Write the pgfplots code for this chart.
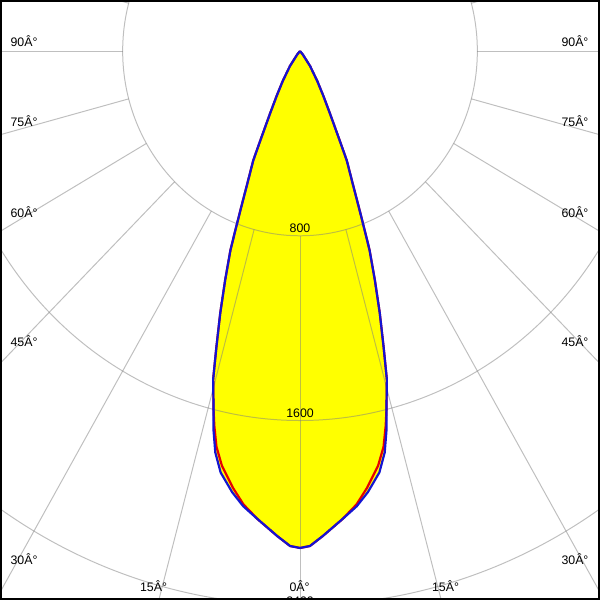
\documentclass[border=0pt]{standalone}
\usepackage{pgfplots}
\pgfplotsset{compat=1.18}
\usepackage{fontspec}
\setmainfont{Liberation Sans}
\definecolor{gridc}{RGB}{128,128,128}
\definecolor{curveblue}{RGB}{20,20,210}
\definecolor{pureyellow}{RGB}{255,255,0}
\definecolor{purered}{RGB}{230,0,0}
\pgfplotstableread{
ang r
230 0
230 20
235 79
239 151
241.5 220
243.4 300
245.2 428
246 519
247.5 621
248.7 741
249.4 829
250 918
251.2 1048
252.4 1190
253.6 1336
254.6 1476
255.9 1601
256.6 1685
257.6 1780
258.9 1860
260.9 1935
262.6 1988
264.6 2036
267.2 2103
268.8 2144
270 2152
271.2 2144
272.8 2103
275.4 2036
277.4 1988
279.1 1935
281.1 1860
282.4 1780
283.4 1685
284.1 1601
285.4 1476
286.4 1336
287.6 1190
288.8 1048
290 918
290.6 829
291.3 741
292.5 621
294 519
294.8 428
296.6 300
298.5 220
301 151
305 79
310 20
310 0
}\bluedata
\pgfplotstableread{
ang r
230 0
230 20
235 79
239 151
241.5 220
243.4 300
245.2 428
246 519
247.5 621
248.7 741
249.4 829
250 918
251.2 1048
252.4 1190
253.6 1336
254.6 1476
255.9 1601
256.6 1668
257.6 1755
258.9 1830
260.9 1915
262.6 1980
264.6 2036
267.2 2103
268.8 2144
270 2152
271.2 2144
272.8 2103
275.4 2036
277.4 1980
279.1 1915
281.1 1830
282.4 1755
283.4 1668
284.1 1601
285.4 1476
286.4 1336
287.6 1190
288.8 1048
290 918
290.6 829
291.3 741
292.5 621
294 519
294.8 428
296.6 300
298.5 220
301 151
305 79
310 20
310 0
}\reddata
\begin{document}
\begin{tikzpicture}
\begin{axis}[
  width=300pt, height=300pt, scale only axis,
  xmin=-1348, xmax=1348, ymin=-2372, ymax=216,
  xtick=\empty, ytick=\empty,
  axis on top=true,
  axis line style={line width=1.2pt, black},
  clip=true,
]
% fill
\addplot[fill=pureyellow, draw=none, data cs=polar] table[x=ang, y=r] {\bluedata} -- cycle;
% grid circles
\draw[gridc, opacity=0.5, line width=0.5pt] (axis cs:0,0) ellipse [x radius=800, y radius=800];
\draw[gridc, opacity=0.5, line width=0.5pt] (axis cs:0,0) ellipse [x radius=1600, y radius=1600];
\draw[gridc, opacity=0.5, line width=0.5pt] (axis cs:0,0) ellipse [x radius=2400, y radius=2400];
% spokes
\pgfplotsset{spoke/.style={gridc, opacity=0.5, line width=0.5pt, data cs=polar}}
\addplot[spoke] coordinates {(270,800) (270,5000)};
\addplot[spoke] coordinates {(255,800) (255,5000)};
\addplot[spoke] coordinates {(285,800) (285,5000)};
\addplot[spoke] coordinates {(240,800) (240,5000)};
\addplot[spoke] coordinates {(300,800) (300,5000)};
\addplot[spoke] coordinates {(225,800) (225,5000)};
\addplot[spoke] coordinates {(315,800) (315,5000)};
\addplot[spoke] coordinates {(210,800) (210,5000)};
\addplot[spoke] coordinates {(330,800) (330,5000)};
\addplot[spoke] coordinates {(195,800) (195,5000)};
\addplot[spoke] coordinates {(345,800) (345,5000)};
\addplot[spoke] coordinates {(180,800) (180,5000)};
\addplot[spoke] coordinates {(0,800) (0,5000)};
\addplot[spoke] coordinates {(165,800) (165,5000)};
\addplot[spoke] coordinates {(15,800) (15,5000)};
% curves
\addplot[purered, line width=1.1pt, data cs=polar] table[x=ang, y=r] {\reddata};
\addplot[curveblue, line width=1.1pt, data cs=polar] table[x=ang, y=r] {\bluedata};
% radius labels
\node[font=\fontsize{6.2}{7}\selectfont, anchor=south, inner sep=0pt, yshift=1.5pt] at (axis cs:0,-800) {800};
\node[font=\fontsize{6.2}{7}\selectfont, anchor=south, inner sep=0pt, yshift=1.5pt] at (axis cs:0,-1600) {1600};
\node[font=\fontsize{6.2}{7}\selectfont, anchor=south, inner sep=0pt, yshift=-0.5pt] at (axis cs:0,-2400) {2400};
% angle labels
\begin{scope}[every node/.style={font=\fontsize{6.2}{7}\selectfont, inner sep=0pt}]
\node[anchor=south west] at (rel axis cs:0.015,0.9233) {90Â°};
\node[anchor=south west] at (rel axis cs:0.015,0.79) {75Â°};
\node[anchor=south west] at (rel axis cs:0.015,0.6367) {60Â°};
\node[anchor=south west] at (rel axis cs:0.015,0.4217) {45Â°};
\node[anchor=south west] at (rel axis cs:0.015,0.0567) {30Â°};
\node[anchor=south west] at (rel axis cs:0.2317,0.0117) {15Â°};
\node[anchor=south] at (rel axis cs:0.4992,0.0117) {0Â°};
\node[anchor=south east] at (rel axis cs:0.7667,0.0117) {15Â°};
\node[anchor=south east] at (rel axis cs:0.9833,0.0567) {30Â°};
\node[anchor=south east] at (rel axis cs:0.9833,0.4217) {45Â°};
\node[anchor=south east] at (rel axis cs:0.9833,0.6367) {60Â°};
\node[anchor=south east] at (rel axis cs:0.9833,0.79) {75Â°};
\node[anchor=south east] at (rel axis cs:0.9833,0.9233) {90Â°};
\end{scope}
\end{axis}
\end{tikzpicture}
\end{document}
